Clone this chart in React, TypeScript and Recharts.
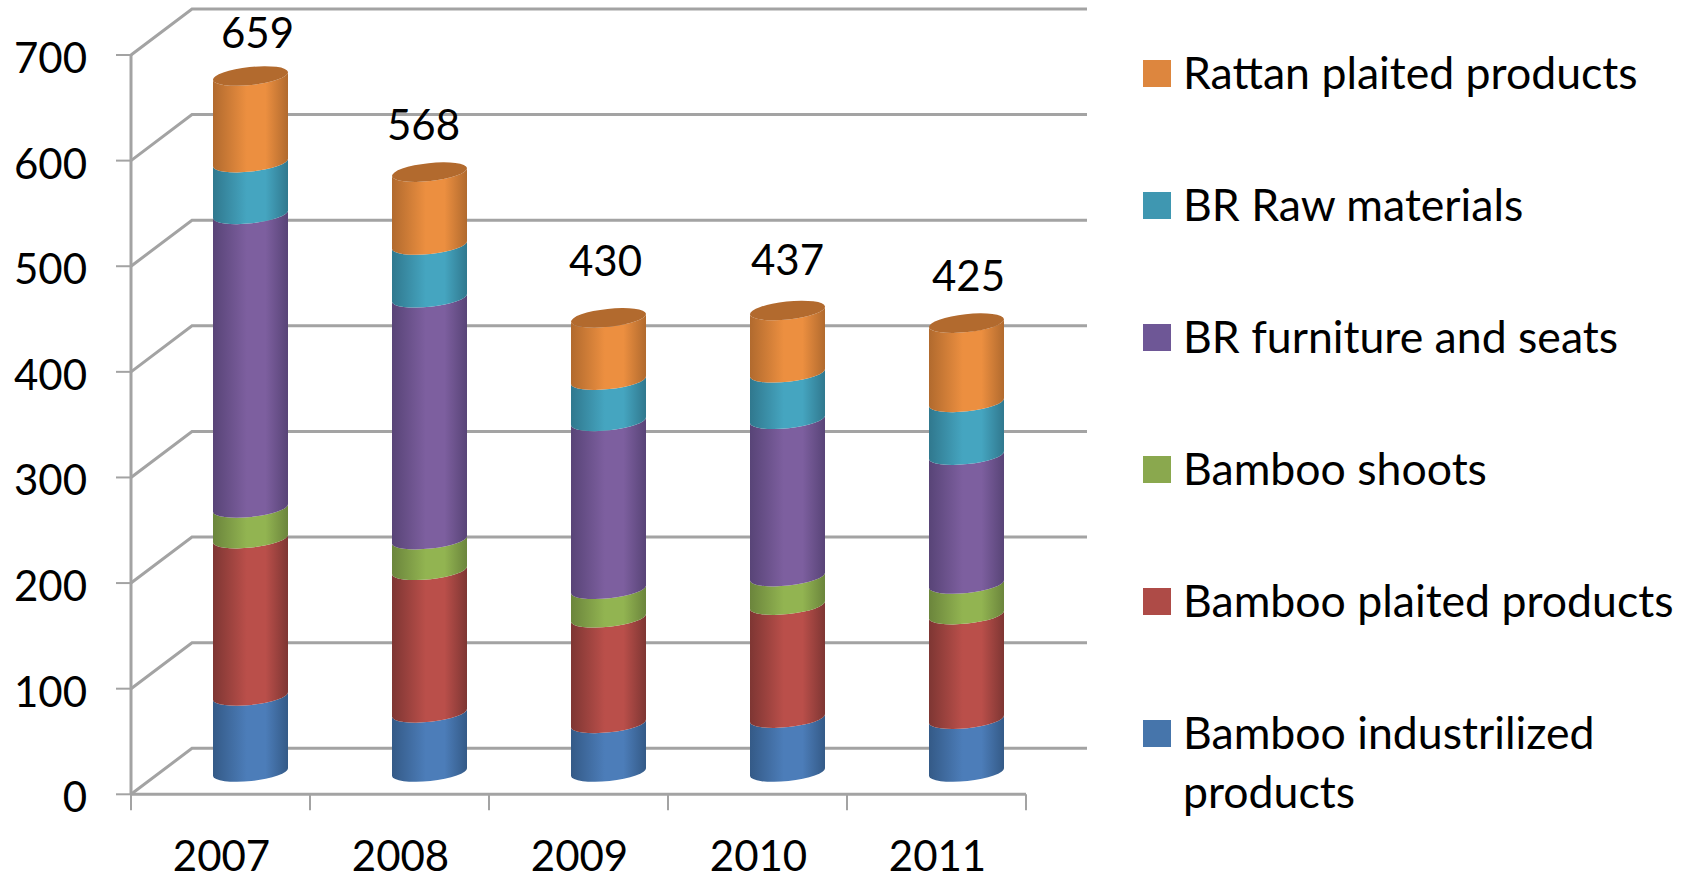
import React from "react";
import { BarChart, Bar, XAxis, YAxis, ReferenceLine, Legend, LabelList } from "recharts";

const years = ["2007", "2008", "2009", "2010", "2011"];
const bambooIndustrilized = [72, 56, 46, 51, 50];
const bambooPlaited = [149, 135, 100, 107, 99];
const bambooShoots = [29, 29, 27, 27, 29];
const brFurniture = [278, 229, 159, 149, 122];
const brRaw = [49, 50, 39, 44, 50];
const rattanPlaited = [82, 69, 59, 59, 75];
const totals = [659, 568, 430, 437, 425];
const yTicks = [0, 100, 200, 300, 400, 500, 600, 700];

const seriesMeta = [
  { key: "bi", name: "Bamboo industrilized products", values: bambooIndustrilized, swatch: "#4675AB", light: "#4C7DB9", dark: "#345A87" },
  { key: "bp", name: "Bamboo plaited products", values: bambooPlaited, swatch: "#AE4B47", light: "#BA4F4A", dark: "#7E3633" },
  { key: "bs", name: "Bamboo shoots", values: bambooShoots, swatch: "#8AA84E", light: "#92B451", dark: "#6B853C" },
  { key: "bf", name: "BR furniture and seats", values: brFurniture, swatch: "#6E5796", light: "#7D5F9F", dark: "#584477" },
  { key: "br", name: "BR Raw materials", values: brRaw, swatch: "#3F97B1", light: "#45A5C0", dark: "#30788E" },
  { key: "rp", name: "Rattan plaited products", values: rattanPlaited, swatch: "#DD863E", light: "#EC8F40", dark: "#B16A2E" },
];

const rows = years.map((year, i) => {
  const row: Record<string, string | number> = { year, total: totals[i] };
  seriesMeta.forEach((s) => { row[s.key] = s.values[i]; });
  return row;
});

// layout of the pseudo-3D box
const W = 1690, H = 881;
const PLOT = { left: 131, right: 1026, top: 55, bottom: 794.3 };
const DEPTH_X = 61, DEPTH_Y = 46;
const BAR_SHIFT_X = 30, BAR_SHIFT_Y = 18.3, TILT = 8, RY = 9;
const AXIS = "#A3A3A3";
const labelNudge = [[7, -48], [-6, -52], [-3, -62], [0, -55], [2, -52]];

const cylinder = (gradId: string) => (p: any) => {
  const x = p.x + BAR_SHIFT_X, w = p.width;
  const top = p.y - BAR_SHIFT_Y, bottom = p.y + p.height - BAR_SHIFT_Y;
  const rx = Math.hypot(w, TILT) / 2;
  const rot = (-Math.atan2(TILT, w) * 180) / Math.PI;
  const d = `M${x},${top} L${x},${bottom} A${rx},${RY} ${rot} 0 0 ${x + w},${bottom - TILT} L${x + w},${top - TILT} A${rx},${RY} ${rot} 0 1 ${x},${top} Z`;
  return <path d={d} fill={`url(#${gradId})`} />;
};

const wall = (p: any) => {
  const x1 = p.x1 ?? p.viewBox?.x, y = p.y1, x2 = p.x2;
  return (
    <polyline
      points={`${x1},${y} ${x1 + DEPTH_X},${y - DEPTH_Y} ${x2 + DEPTH_X},${y - DEPTH_Y}`}
      fill="none" stroke={AXIS} strokeWidth={3}
    />
  );
};

const BAND = (PLOT.right - PLOT.left) / years.length;
const xTick = (p: any) => {
  const left = p.x - BAND / 2;
  return (
    <g>
      <line x1={left} y1={PLOT.bottom} x2={left} y2={PLOT.bottom + 16} stroke={AXIS} strokeWidth={2} />
      {p.index === years.length - 1 && (
        <line x1={left + BAND} y1={PLOT.bottom} x2={left + BAND} y2={PLOT.bottom + 16} stroke={AXIS} strokeWidth={2} />
      )}
      <text x={p.x + 1} y={871} textAnchor="middle" fontFamily="Lato" fontSize={42} fill="#000">{p.payload.value}</text>
    </g>
  );
};

const yTick = (p: any) => (
  <text x={p.x} y={p.y + 2} textAnchor="end" dominantBaseline="central" fontFamily="Lato" fontSize={42} fill="#000">{p.payload.value}</text>
);

const topLabel = (p: any) => {
  const [dx, dy] = labelNudge[p.index];
  const cx = p.x + BAR_SHIFT_X + p.width / 2 + dx;
  const cy = p.y - BAR_SHIFT_Y + dy;
  return (
    <g>
      <ellipse cx={p.x + BAR_SHIFT_X + p.width / 2} cy={p.y - BAR_SHIFT_Y - TILT / 2} rx={Math.hypot(p.width, TILT) / 2} ry={RY}
        transform={`rotate(${(-Math.atan2(TILT, p.width) * 180) / Math.PI} ${p.x + BAR_SHIFT_X + p.width / 2} ${p.y - BAR_SHIFT_Y - TILT / 2})`}
        fill="#B26A2E" />
      <text x={cx} y={cy} textAnchor="middle" dominantBaseline="central" fontFamily="Lato" fontSize={42} fill="#000">{p.value}</text>
    </g>
  );
};

const LegendBox = () => (
  <div style={{ fontFamily: "Lato", fontSize: 44.6, color: "#000", width: 545, position: "relative", height: 800 }}>
    {[...seriesMeta].reverse().map((s, i) => (
      <div key={s.key} style={{ position: "absolute", left: 0, top: i * 132, display: "flex", alignItems: "flex-start" }}>
        <div style={{ width: 28, height: 27, background: s.swatch, marginTop: 18, marginRight: 12, flex: "none" }} />
        <div style={{ lineHeight: "59px", width: 505 }}>{s.name}</div>
      </div>
    ))}
  </div>
);

export default function App() {
  return (
    <div style={{ position: "absolute", left: 0, top: 0, width: W, height: H, background: "#fff" }}>
      <BarChart
        width={W}
        height={H}
        data={rows}
        barSize={75}
        margin={{ top: PLOT.top, right: W - PLOT.right, bottom: H - PLOT.bottom - 60, left: PLOT.left - 60 }}
      >
        <defs>
          {seriesMeta.map((s) => (
            <linearGradient key={s.key} id={`g-${s.key}`} x1="0" y1="0" x2="1" y2="0">
              <stop offset="0%" stopColor={s.dark} />
              <stop offset="45%" stopColor={s.light} />
              <stop offset="70%" stopColor={s.light} />
              <stop offset="100%" stopColor={s.dark} />
            </linearGradient>
          ))}
        </defs>
        {yTicks.map((v) => (
          <ReferenceLine key={v} y={v} ifOverflow="visible" shape={wall} zIndex={-50} />
        ))}
        <XAxis
          dataKey="year"
          height={60}
          axisLine={{ stroke: AXIS, strokeWidth: 3 }}
          tickLine={false}
          tick={xTick}
          interval={0}
        />
        <YAxis
          width={60}
          domain={[0, 700]}
          ticks={yTicks}
          interval={0}
          axisLine={{ stroke: AXIS, strokeWidth: 3 }}
          tickLine={{ stroke: AXIS, strokeWidth: 2 }}
          tickSize={15}
          tickMargin={29}
          tick={yTick}
        />
        <Legend
          layout="vertical"
          align="center"
          verticalAlign="middle"
          content={LegendBox}
          wrapperStyle={{ left: 1143, top: 42, width: 545, height: 800 }}
        />
        {seriesMeta.map((s, i) => (
          <Bar key={s.key} dataKey={s.key} name={s.name} stackId="a" fill={s.swatch} isAnimationActive={false} shape={cylinder(`g-${s.key}`)}>
            {i === seriesMeta.length - 1 && <LabelList dataKey="total" content={topLabel} />}
          </Bar>
        ))}
      </BarChart>
    </div>
  );
}
